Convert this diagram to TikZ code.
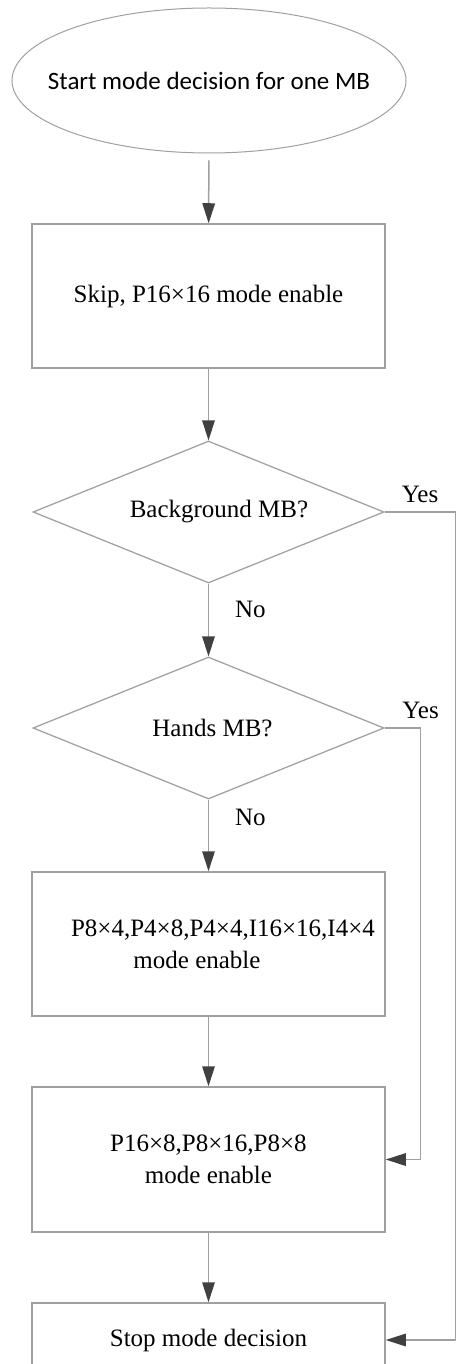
\documentclass[tikz,border=0pt]{standalone}
\usepackage{fontspec}
\setmainfont{Liberation Serif}
\newfontfamily\calib{Carlito}
\usetikzlibrary{shapes.geometric,arrows.meta,calc}
\definecolor{lin}{HTML}{A0A0A0}
\definecolor{tipc}{HTML}{404040}
\begin{document}
\begin{tikzpicture}[x=0.4pt,y=-0.4pt,
  font=\fontsize{10}{12.8}\selectfont,
  box/.style={draw=lin, line width=0.6pt, minimum width=141.2pt, inner sep=0pt, align=center},
  dec/.style={diamond, draw=lin, line width=0.5pt, minimum width=140.4pt, minimum height=56.8pt, inner sep=0pt},
  flow/.style={draw=lin, line width=0.6pt, -{Triangle[length=8pt,width=5pt,color=tipc]}},
  lbl/.style={font=\fontsize{10}{12}\selectfont}]
\useasboundingbox (0,0) rectangle (459,1364);
\clip (0,0) rectangle (459,1364);
% nodes
\node[ellipse, draw=lin, line width=0.4pt, minimum width=157.6pt, minimum height=58pt, inner sep=0pt,
      label={[font=\calib\fontsize{10}{12}\selectfont]center:Start mode decision for one MB}] (start) at (209,80.5) {};
\node[box, minimum height=57.6pt] (b1) at (208.5,296) {Skip, P16×16 mode enable};
\node[dec] (d1) at (208.5,512) {};
\node (d1t) at (219,512) {Background MB?};
\node[dec] (d2) at (208.5,728) {};
\node (d2t) at (212.5,728) {Hands MB?};
\node[box, minimum height=57.6pt] (b2) at (208.5,944) {};
\node[align=center, inner sep=0pt] (b2t) at (223,944) {P8×4,P4×8,P4×4,I16×16,I4×4\\\hspace*{-20.8pt}mode enable};
\node[box, minimum height=58pt] (b3) at (208.5,1159.5) {P16×8,P8×16,P8×8\\mode enable};
\node[box, minimum height=29.6pt] (b4) at (208.5,1340) {Stop mode decision};
% connectors
\draw[flow, shorten <=2.8pt] (start) -- (b1);
\draw[flow] (b1) -- (d1);
\draw[flow] (d1) -- node[lbl, pos=0.35, right=7pt] {No} (d2);
\draw[flow] (d2) -- node[lbl, pos=0.25, right=7pt] {No} (b2);
\draw[flow] (b2) -- (b3);
\draw[flow] (b3) -- (b4);
\draw[flow] (d1.east) -- node[lbl, above] {Yes} ++(71,0) |- (b4.east);
\draw[flow] (d2.east) -- node[lbl, pos=1, above] {Yes} ++(36,0) |- (b3.east);
\end{tikzpicture}
\end{document}
